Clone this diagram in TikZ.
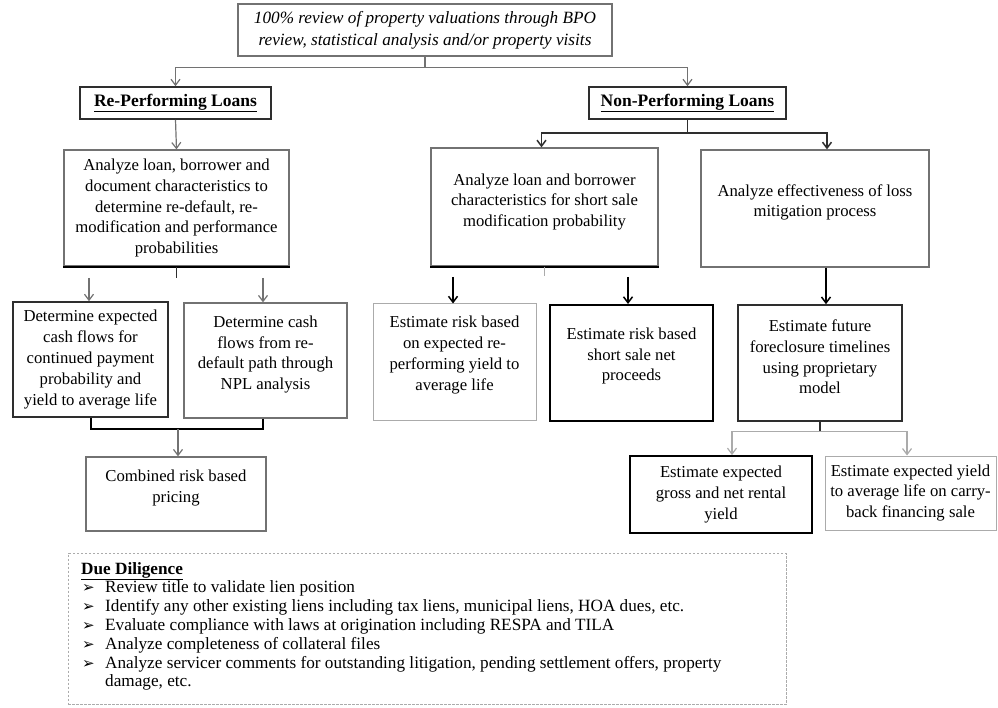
\documentclass[tikz,border=0pt]{standalone}
\usepackage{fontspec}
\setmainfont{Liberation Serif}
\newfontfamily\dejavu{DejaVu Sans}
\usetikzlibrary{arrows.meta,calc}
\definecolor{lg}{HTML}{ABABAB}
\definecolor{mg}{HTML}{727272}
\definecolor{dk}{HTML}{2E2E2E}
\newcommand{\ddbul}{\hspace*{1pt}\makebox[23pt][l]{\dejavu\fontsize{15}{15}\selectfont ➢}}
\begin{document}
\begin{tikzpicture}[x=1pt,y=-1pt,
  >={Straight Barb[length=6pt,width=9pt]},
  box/.style={rectangle, inner sep=0pt, fill=white},
  txt/.style={align=center, inner sep=0pt, font=\fontsize{16.7}{20.8}\selectfont},
  lbox/.style={box, draw=lg, line width=1pt},
  mbox/.style={box, draw=mg, line width=1.2pt},
  dbox/.style={box, draw=dk, line width=1.6pt},
  kbox/.style={box, draw=black, line width=2pt},
  lconn/.style={draw=lg, line width=1.2pt},
  gconn/.style={draw=mg, line width=1.2pt},
  dconn/.style={draw=dk, line width=1.5pt},
  kconn/.style={draw=black, line width=1.5pt},
  jconn/.style={draw=black, line width=2pt},
  bottomline/.style={draw=black, line width=2pt}
]
\useasboundingbox (0,0) rectangle (998,708);

% ---- boxes ----
\node[mbox, minimum width=374pt, minimum height=52pt] (top) at (425,30) {};
\node[txt, font=\fontsize{17.2}{22}\selectfont\itshape] (topt) at (top.center)
  {100\% review of property valuations through BPO\\ review, statistical analysis and/or property visits};

\node[dbox, minimum width=191pt, minimum height=32pt] (rpl) at (175.5,103) {};
\node[txt, font=\fontsize{17.5}{20}\selectfont\bfseries] (rplt) at (rpl.center) {\underline{Re-Performing Loans}};

\node[dbox, minimum width=197pt, minimum height=32pt] (npl) at (687.5,103) {};
\node[txt, font=\fontsize{17.5}{20}\selectfont\bfseries] (nplt) at (npl.center) {\underline{Non-Performing Loans}};

\node[mbox, minimum width=225pt, minimum height=116pt] (ana1) at (176.5,208) {};
\draw[bottomline] (ana1.south west) -- (ana1.south east);
\node[txt] (ana1t) at (ana1.center)
  {Analyze loan, borrower and\\ document characteristics to\\ determine re-default, re-\\ modification and performance\\ probabilities};

\node[mbox, minimum width=227pt, minimum height=118pt] (ana2) at (544.5,207) {};
\draw[bottomline] (ana2.south west) -- (ana2.south east);
\node[txt] (ana2t) at ([yshift=5pt]ana2.center)
  {Analyze loan and borrower\\ characteristics for short sale\\ modification probability};

\node[mbox, minimum width=228pt, minimum height=117pt] (ana3) at (815,208.5) {};
\node[txt] (ana3t) at ([yshift=6pt]ana3.center)
  {Analyze effectiveness of loss\\ mitigation process};

\node[dbox, minimum width=155pt, minimum height=115pt] (det1) at (90.5,359.5) {};
\node[txt] (det1t) at (det1.center)
  {Determine expected\\ cash flows for\\ continued payment\\ probability and\\ yield to average life};

\node[mbox, minimum width=163pt, minimum height=115pt] (det2) at (265.5,360.5) {};
\node[txt] (det2t) at ([yshift=6pt]det2.center)
  {Determine cash\\ flows from re-\\ default path through\\ NPL analysis};

\node[lbox, minimum width=163pt, minimum height=116pt] (est1) at (454.5,362) {};
\node[txt] (est1t) at ([yshift=7pt]est1.center)
  {Estimate risk based\\ on expected re-\\ performing yield to\\ average life};

\node[kbox, minimum width=163pt, minimum height=116pt] (est2) at (631.5,363) {};
\node[txt] (est2t) at ([yshift=7pt]est2.center)
  {Estimate risk based\\ short sale net\\ proceeds};

\node[dbox, minimum width=164pt, minimum height=116pt] (est3) at (820,363) {};
\node[txt] (est3t) at ([yshift=6pt]est3.center)
  {Estimate future\\ foreclosure timelines\\ using proprietary\\ model};

\node[mbox, minimum width=180pt, minimum height=74pt] (comb) at (176,494) {};
\node[txt] (combt) at ([yshift=6pt]comb.center)
  {Combined risk based\\ pricing};

\node[kbox, line width=1.8pt, minimum width=182pt, minimum height=77pt] (gross) at (721,494.5) {};
\node[txt] (grosst) at (gross.center)
  {Estimate expected\\ gross and net rental\\ yield};

\node[lbox, minimum width=171pt, minimum height=74pt] (yield) at (910.5,493) {};
\node[txt] (yieldt) at (yield.center)
  {Estimate expected yield\\ to average life on carry-\\ back financing sale};

% ---- due diligence ----
\node[box, draw=lg, line width=1pt, dash pattern=on 2.5pt off 1.5pt,
      minimum width=718pt, minimum height=151pt] (dd) at (427,629) {};
\node[align=left, inner sep=0pt, anchor=north west, font=\fontsize{17.2}{18.8}\selectfont] (ddt) at (81,562)
  {\textbf{\underline{Due Diligence}}\\
   \ddbul Review title to validate lien position\\
   \ddbul Identify any other existing liens including tax liens, municipal liens, HOA dues, etc.\\
   \ddbul Evaluate compliance with laws at origination including RESPA and TILA\\
   \ddbul Analyze completeness of collateral files\\
   \ddbul Analyze servicer comments for outstanding litigation, pending settlement offers, property\\
   \hspace*{24pt}damage, etc.};

% ---- connectors ----
\draw[gconn] (top.south) -- ++(0,11) coordinate (tj);
\draw[gconn,->] (tj) -| (rpl.north);
\draw[gconn,->] (tj) -| (npl.north);

\draw[gconn,->] (rpl.south) -- (ana1.north);

\draw[dconn] (npl.south) -- ++(0,13) coordinate (nj);
\draw[dconn,->] (nj) -| ($(ana2.north)+(-3,0)$);
\draw[dconn,->] (nj) -| ($(ana3.north)+(12,0)$);

\draw[dconn] (ana1.south) -- ++(0,11) coordinate (aj);
\coordinate (b1) at (89,278);
\coordinate (b2) at (263,278);
\draw[gconn,->] (b1) -- (b1 |- det1.north);
\draw[gconn,->] (b2) -- (b2 |- det2.north);

\coordinate (cj) at (178,429);
\draw[jconn] (det1.south) |- (cj);
\draw[jconn] ($(det2.south)+(-3,0)$) |- (cj);
\draw[gconn,->] (cj) -- (cj |- comb.north);

\draw[lconn, line width=0.8pt] (ana2.south) -- ++(0,9) coordinate (mj);
\coordinate (a1) at (453,277);
\coordinate (a2) at (628,277);
\draw[kconn,->] (a1) -- (a1 |- est1.north);
\draw[kconn,->] (a2) -- (a2 |- est2.north);

\draw[kconn,->] ($(ana3.south)+(11,0)$) -- ($(est3.north)+(6,0)$);

\draw[dconn] (est3.south) -- ++(0,10) coordinate (ej);
\draw[lconn,->] (ej) -| ($(gross.north)+(11,0)$);
\draw[lconn,->] (ej) -| ($(yield.north)+(-3.5,0)$);
\end{tikzpicture}
\end{document}
